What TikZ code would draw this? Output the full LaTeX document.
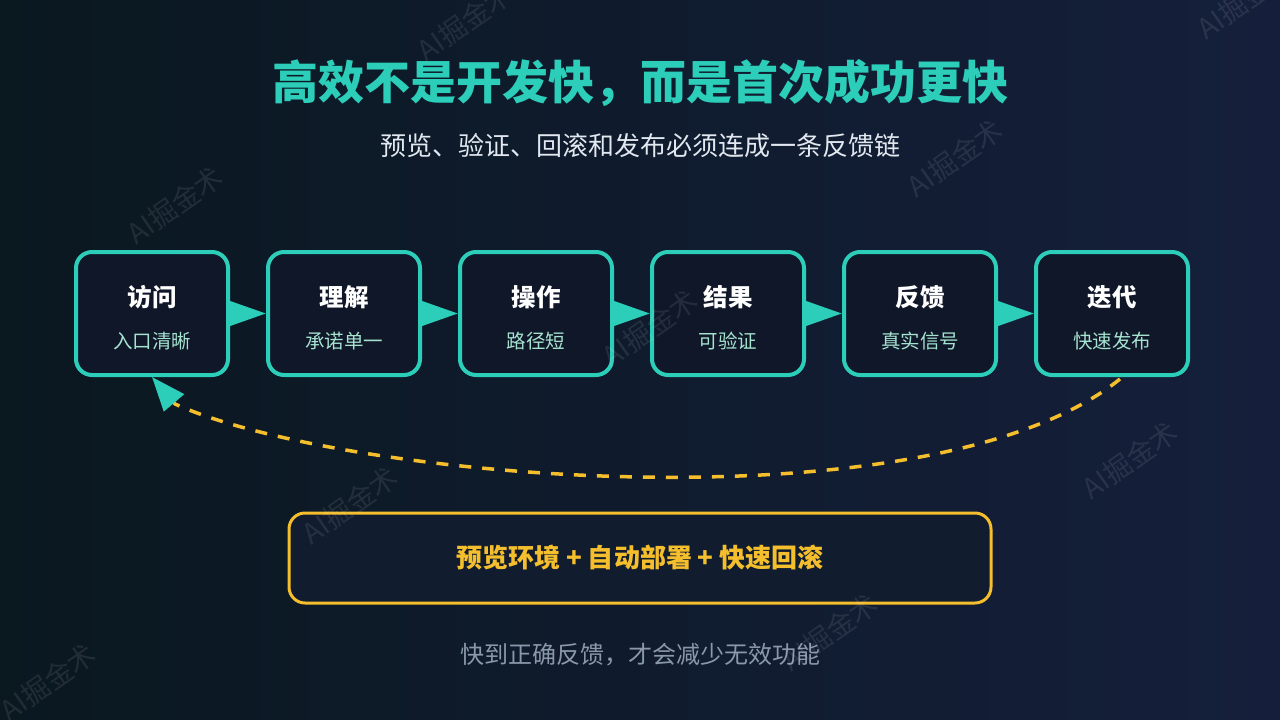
\documentclass[tikz,border=0pt]{standalone}
\usepackage{fontspec}
\setmainfont{Noto Sans CJK SC}
\usetikzlibrary{arrows.meta,calc}
\definecolor{cteal}{HTML}{2CCDB9}
\definecolor{cyel}{HTML}{F4BE2C}
\definecolor{cbox}{HTML}{0F1729}
\definecolor{cbot}{HTML}{111C2F}
\definecolor{cmint}{HTML}{A6E3CF}
\definecolor{csub}{HTML}{E2E8F0}
\definecolor{cfoot}{HTML}{8A98AB}
\definecolor{bgleft}{HTML}{0A1820}
\definecolor{bgright}{HTML}{151F3B}
\begin{document}
\begin{tikzpicture}[x=1pt,y=-1pt,
  stepbox/.style={draw=cteal, line width=4pt, fill=cbox, rounded corners=16pt,
    minimum width=152pt, minimum height=123pt, inner sep=0pt},
  boxtitle/.style={font=\bfseries\fontsize{24.5}{28}\selectfont, text=white, inner sep=0pt},
  boxsub/.style={font=\fontsize{19.5}{22}\selectfont, text=cmint, inner sep=0pt},
  chain/.style={draw=cteal, line width=4pt, -{Triangle[length=36pt,width=24pt]}},
  loopback/.style={draw=cyel, line width=3.5pt, dash pattern=on 12pt off 11pt,
    -{Triangle[length=34pt,width=26pt,color=cteal]}},
  wm/.style={font=\fontsize{28}{30}\selectfont, text=white, text opacity=0.09, rotate=35, inner sep=0pt}
]
\shade[left color=bgleft, right color=bgright] (0,0) rectangle (1280,720);
\useasboundingbox (0,0) rectangle (1280,720);

% title
\node[font=\bfseries\fontsize{46}{50}\selectfont, text=cteal] (title) at (640,83) {高效不是开发快，而是首次成功更快};
\node[font=\fontsize{26}{30}\selectfont, text=csub] (subtitle) at (640,146) {预览、验证、回滚和发布必须连成一条反馈链};

% steps
\node[stepbox] (b1) at (152,313.5) {};
\node[stepbox] (b2) at (344,313.5) {};
\node[stepbox] (b3) at (536,313.5) {};
\node[stepbox] (b4) at (728,313.5) {};
\node[stepbox] (b5) at (920,313.5) {};
\node[stepbox] (b6) at (1112,313.5) {};

\node[boxtitle] (t1) at (152,297) {访问};
\node[boxsub]   (s1) at (152,341) {入口清晰};
\node[boxtitle] (t2) at (344,297) {理解};
\node[boxsub]   (s2) at (344,341) {承诺单一};
\node[boxtitle] (t3) at (536,297) {操作};
\node[boxsub]   (s3) at (536,341) {路径短};
\node[boxtitle] (t4) at (728,297) {结果};
\node[boxsub]   (s4) at (728,341) {可验证};
\node[boxtitle] (t5) at (920,297) {反馈};
\node[boxsub]   (s5) at (920,341) {真实信号};
\node[boxtitle] (t6) at (1112,297) {迭代};
\node[boxsub]   (s6) at (1112,341) {快速发布};

\draw[chain] (b1) -- (b2);
\draw[chain] (b2) -- (b3);
\draw[chain] (b3) -- (b4);
\draw[chain] (b4) -- (b5);
\draw[chain] (b5) -- (b6);

% feedback loop
\coordinate (cs) at ($(b6.south)+(8,2)$);
\coordinate (ce) at (175,404);
\draw[loopback] (cs) .. controls (931,531) and (343,480) .. (ce) -- (b1.south);

% tools box
\node[draw=cyel, line width=3pt, fill=cbot, rounded corners=16pt, minimum width=702pt,
  minimum height=90pt, inner sep=0pt, font=\bfseries\fontsize{26}{30}\selectfont, text=cyel]
  (tools) at (640,558) {预览环境 + 自动部署 + 快速回滚};

\node[font=\fontsize{24}{28}\selectfont, text=cfoot] (footer) at (640,655) {快到正确反馈，才会减少无效功能};

% watermarks
\node[wm] (wm1) at (175,205) {AI掘金术};
\node[wm] (wm2) at (465,22) {AI掘金术};
\node[wm] (wm3) at (955,158) {AI掘金术};
\node[wm] (wm4) at (1245,0) {AI掘金术};
\node[wm] (wm5) at (650,328) {AI掘金术};
\node[wm] (wm6) at (350,505) {AI掘金术};
\node[wm] (wm7) at (1130,460) {AI掘金术};
\node[wm] (wm8) at (48,682) {AI掘金术};
\node[wm] (wm9) at (830,632) {AI掘金术};
\end{tikzpicture}
\end{document}
